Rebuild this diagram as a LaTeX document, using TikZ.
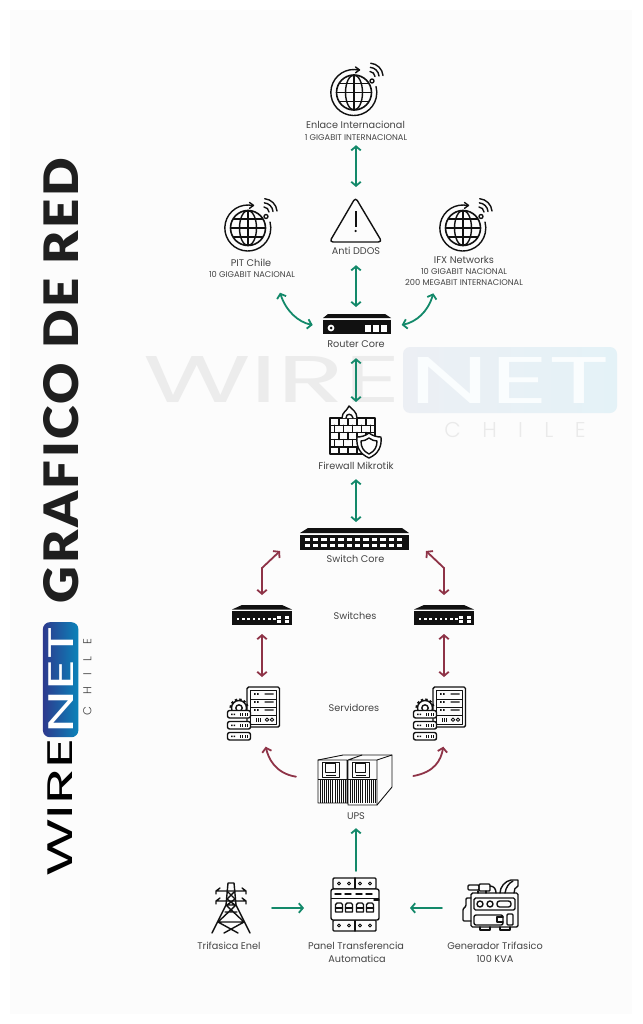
\documentclass[tikz,border=0pt]{standalone}
\usepackage{fontspec}
\usepackage{graphicx}
\usetikzlibrary{arrows.meta,calc}
\setmainfont{Poppins}
\newfontfamily\titlefont{Lato}[LetterSpace=5,BoldFont=* Black]
\newfontfamily\logofont{Poppins}
\newfontfamily\chilefont{Poppins}[UprightFont=* Light,LetterSpace=100]
\definecolor{gline}{HTML}{13896A}
\definecolor{rline}{HTML}{8E3347}
\definecolor{ink}{HTML}{111111}
\definecolor{lab}{HTML}{444444}
\definecolor{logoA}{HTML}{2D3A8E}
\definecolor{logoB}{HTML}{0B83B9}
\definecolor{wmA}{HTML}{ECEFF4}
\definecolor{wmB}{HTML}{E4F2F7}
\definecolor{wmWire}{HTML}{ECECEC}
\definecolor{wmNet}{HTML}{FAFDFE}
\definecolor{wmChile}{HTML}{EAEAEA}
\definecolor{pagebg}{HTML}{FCFCFC}
\tikzset{
  conn/.style={line width=1.8pt,line cap=round,line join=miter},
  green2/.style={conn,draw=gline,{Straight Barb[length=4pt,width=9.5pt,line width=1.8pt]}-{Straight Barb[length=4pt,width=9.5pt,line width=1.8pt]}},
  green1/.style={conn,draw=gline,-{Straight Barb[length=4pt,width=9.5pt,line width=1.8pt]}},
  red2/.style={conn,draw=rline,{Straight Barb[length=4pt,width=9.5pt,line width=1.8pt]}-{Straight Barb[length=4pt,width=9.5pt,line width=1.8pt]}},
  red1/.style={conn,draw=rline,-{Straight Barb[length=4pt,width=9.5pt,line width=1.8pt]}},
  lbl/.style={inner sep=0pt,text=lab,font=\fontsize{9.7}{10}\selectfont,text height=9pt,text depth=2pt},
  sub/.style={inner sep=0pt,text=lab,font=\fontsize{8.3}{9}\selectfont,text height=6.5pt,text depth=1pt},
  box/.style={inner sep=0pt,outer sep=0pt,minimum width=#1},
  ico/.style={draw=ink,line width=1.4pt,line join=round,line cap=round},
  thinico/.style={draw=ink,line width=.9pt,line join=round},
  globepic/.pic={
    \draw[ico,line width=1.6pt] (0,0) circle[radius=17.5];
    \draw[ico] (0,0) ellipse[x radius=8.5,y radius=17.5];
    \draw[ico] (0,-17.5)--(0,17.5) (-17.5,0)--(17.5,0) (-14.5,-9)--(14.5,-9) (-14.5,9)--(14.5,9);
    \draw[ico] (5,-22.4) arc[start angle=-77,delta angle=-298,radius=23];
    \draw[ico] (1.5,-25.5)--(5.5,-22.6)--(1.5,-19.7);
    \draw[ico] (18,-11.5) circle[radius=2];
    \draw[ico] (21,-16) arc[start angle=-5,delta angle=-80,radius=5.5];
    \draw[ico] (25,-16.5) arc[start angle=-5,delta angle=-80,radius=9.5];
    \draw[ico] (29,-17) arc[start angle=-5,delta angle=-80,radius=13.5];
  },
  smallswitch/.pic={
    \fill[ink] (-20,-10)--(20,-10)--(30,-5.5)--(-30,-5.5)--cycle;
    \fill[ink] (-30,-4.5) rectangle (30,10);
    \foreach \i in {0,...,7} \fill[white] (-25+\i*5.2,3) rectangle ++(2.4,2.4);
    \foreach \u in {15,23} \foreach \v in {1,5} \fill[white] (\u,\v) rectangle ++(4,3);
  },
  serverpic/.pic={
    \draw[ico,rounded corners=1.5] (-6.5,-26) rectangle (26,14);
    \draw[thinico] (-3.5,-23) rectangle (22.5,11);
    \foreach \y in {-14,-6,2} \draw[thinico] (-3.5,\y)--(22.5,\y);
    \foreach \y in {-19,-11,-3}{
      \fill[ink] (0.5,\y-.8) rectangle ++(1.6,1.6) (3.5,\y-.8) rectangle ++(1.6,1.6) (11,\y-.7) rectangle ++(9,1.4);
    }
    \foreach \x in {2,4,6} \fill[ink] (\x,5) rectangle ++(1,3.5);
    \draw[thinico] (13.5,6.7) circle[radius=1.7] (18.5,6.7) circle[radius=1.7];
    \foreach \a in {-170,-140,-110,-80,-50,-20} \draw[ink,line width=2.4pt] (-14.5,-5)--++(\a:9.5);
    \draw[ico,fill=white] (-14.5,-5) circle[radius=7.5];
    \draw[ico] (-14.5,-5) circle[radius=3.2];
    \foreach \y in {-2.5,8.5,19.5}{
      \draw[ico,fill=white,rounded corners=2] (-26,\y) rectangle (-3,\y+7.5);
      \fill[ink] (-22.5,\y+3) rectangle ++(1.5,1.6) (-20,\y+3) rectangle ++(1.5,1.6);
      \foreach \x in {-14,-11.5,-9,-6.5} \fill[ink] (\x,\y+2.6) rectangle ++(1.4,2.4);
    }
  }
}
\newcommand{\wirelogo}[7]{%
  % #1 prefix, #2 WIRE colour, #3 rect left, #4 rect right, #5 NET, #6 CHILE, #7 shade angle
  \node[anchor=south west,inner sep=0pt,transform shape,text=#2] (#1wire) at (0,0) {\resizebox{258pt}{46pt}{\logofont WIRE}};
  \shade[rounded corners=7pt,shading angle=#7,left color=#3,right color=#4] (260,-10) rectangle (474,56);
  \node[inner sep=0pt,transform shape,text=#5] (#1net) at (367,23) {\resizebox{200pt}{46pt}{\logofont NET}};
  \node[inner sep=0pt,transform shape,text=#6,font=\chilefont\fontsize{21.4}{22}\selectfont] (#1chile) at (372,-26.5) {CHILE};
}
\begin{document}
\begin{tikzpicture}[x=1pt,y=-1pt]
\useasboundingbox (0,0) rectangle (642,1024);
\fill[white] (0,0) rectangle (642,1024);
\fill[pagebg] (10,10) rectangle (632,1014);

% watermark
\begin{scope}[shift={(143,403)},y=1pt]
  \wirelogo{wm}{wmWire}{wmA}{wmB}{wmNet}{wmChile}{90}
\end{scope}
% side logo
\begin{scope}[shift={(73,877)},rotate=90,scale=.5376,y=1pt]
  \wirelogo{sl}{black}{logoA}{logoB}{white}{black!75}{90}
\end{scope}
\node[inner sep=0pt,rotate=90,text=black!88] (title) at (61,380.5) {\resizebox{445pt}{35pt}{\titlefont\bfseries GRAFICO DE RED}};

% ---------- icon place holders
\node[box=46,minimum height=46] (gtop) at (356,93) {};
\node[box=46,minimum height=46] (gleft) at (249,228) {};
\node[box=46,minimum height=46] (gright) at (464,228) {};
\node[box=52,minimum height=44] (ddos) at (356,220) {};
\node[box=68,minimum height=20] (router) at (357,324) {};
\node[box=50,minimum height=51] (fw) at (356,432.5) {};
\node[box=109,minimum height=21.5] (core) at (354.5,538.75) {};
\node[box=60,minimum height=20] (swl) at (262,615) {};
\node[box=60,minimum height=20] (swr) at (444,615) {};
\node[box=53,minimum height=52] (svl) at (253.5,713) {};
\node[box=53,minimum height=52] (svr) at (439.5,713) {};
\node[box=74,minimum height=51] (ups) at (355,780) {};
\node[box=38,minimum height=50] (tower) at (231,908) {};
\node[box=48,minimum height=53] (panel) at (355,904.5) {};
\node[box=54,minimum height=52] (gen) at (491,908) {};

% ---------- icons
\pic at (354,92.5) {globepic};
\pic at (248,228) {globepic};
\pic at (463,228) {globepic};

\draw[ico,rounded corners=3.5pt] (355.5,197.5)--(382,242)--(329.5,242)--cycle;
\fill[ink] (354.7,211) rectangle (356.5,227);
\fill[ink] (355.6,231) circle[radius=1.2];

\fill[ink] (328,314)--(385,314)--(391,318)--(323,318)--cycle;
\fill[ink] (323,319.5) rectangle (391,334);
\fill[white] (331,328) circle[radius=3.4];
\fill[ink] (331,328) circle[radius=1.5];
\foreach \x in {364.5,372.5,380.5} \fill[white] (\x,324.5) rectangle ++(6.5,7);

\begin{scope}
  \draw[ico] (330,418) rectangle (375,454);
  \foreach \y in {425.2,432.4,439.6,446.8} \draw[ico] (330,\y)--(375,\y);
  \foreach \x in {339,348,357,366} {\draw[ico] (\x,418)--(\x,425.2); \draw[ico] (\x,432.4)--(\x,439.6); \draw[ico] (\x,446.8)--(\x,454);}
  \foreach \x in {334.5,343.5,352.5,361.5,370.5} {\draw[ico] (\x,425.2)--(\x,432.4); \draw[ico] (\x,439.6)--(\x,446.8);}
  \draw[ico,fill=white] (342,418) .. controls (342,412) and (347,411) .. (349,406) .. controls (352,409) and (357,412) .. (357,418);
  \draw[ico] (346,418) .. controls (346,413) and (352,413) .. (353,418);
  \draw[ico,fill=white] (369,433) .. controls (373,436) and (377,437) .. (381,437) .. controls (382,447) and (378,454) .. (369,458) .. controls (360,454) and (356,447) .. (357,437) .. controls (361,437) and (365,436) .. (369,433) -- cycle;
  \draw[ico] (369,438) .. controls (372,440) and (374,441) .. (377,441) .. controls (377,447) and (375,451) .. (369,454) .. controls (363,451) and (361,447) .. (361,441) .. controls (364,441) and (366,440) .. (369,438) -- cycle;
\end{scope}

\fill[ink] (308,528)--(402,528)--(409,533)--(300,533)--cycle;
\fill[ink] (300,534.5) rectangle (409,549.5);
\foreach \i in {0,...,11} \foreach \y in {537.5,543.5} \fill[white] (304.5+\i*8.4,\y) rectangle ++(5.4,3.6);

\pic at (262,615) {smallswitch};
\pic at (444,615) {smallswitch};
\pic at (253.5,713) {serverpic};
\pic at (439.5,713) {serverpic};

% UPS
\begin{scope}
  \draw[ico,line width=.9pt] (318,760)--(343,755)--(392,755)--(392,787)--(377,805)--(348,805)--(348,803)--(318,803)--cycle;
  \draw[ico,line width=.9pt] (347,760)--(318,760) (348,760)--(377,760)--(377,805) (377,760)--(392,755) (347,760)--(347,803) (348,760)--(348,803) (348,760)--(362,755);
  \foreach \a in {325,355}{
    \draw[thinico] (\a-3,762) rectangle (\a+14,777);
    \draw[ico,line width=.9pt] (\a,763.5) rectangle (\a+10,772);
    \draw[thinico] (\a+1,775)--(\a+11,775);
  }
  \foreach \a in {318,348}{
    \draw[thinico] (\a,779)--(\a+29,779);
    \foreach \i in {1,...,13} \draw[draw=ink,line width=.55pt] (\a+\i*2.1,779)--(\a+\i*2.1,803);
  }
\end{scope}

% tower
\begin{scope}
  \draw[ico] (228,883)--(226,905)--(212,933) (234,883)--(236,905)--(250,933) (228,883)--(234,883);
  \draw[ico] (226,905)--(236,905) (225,912)--(237,912)
    (227,891)--(235,899)--(227,905) (235,891)--(227,899)--(235,905)
    (226,905)--(244,922) (236,905)--(218,922) (218,922)--(244,922)
    (218,922)--(238,933) (244,922)--(224,933);
  \draw[ico] (220,888)--(216,891)--(246,891)--(242,888) (216,891)--(216,894) (246,891)--(246,894);
  \draw[ico] (220,898)--(216,901)--(246,901)--(242,898) (216,901)--(216,904) (246,901)--(246,904);
\end{scope}

% panel
\begin{scope}
  \draw[ico,rounded corners=1pt] (333,878) rectangle (376,889);
  \draw[ico,rounded corners=1pt] (333,920) rectangle (376,931);
  \draw[ico] (355,878)--(355,889) (355,920)--(355,931);
  \foreach \x in {339,349,360,370} {\draw[ico,line width=1pt] (\x,883.5) circle[radius=1.5]; \draw[ico,line width=1pt] (\x,925.5) circle[radius=1.5];}
  \draw[ico,fill=white,rounded corners=2pt] (331,889) rectangle (379,920);
  \foreach \x in {335,345,356,366} \draw[ico] (\x,894)--(\x+6,894);
  \draw[thinico] (331,898)--(379,898);
  \foreach \x in {339,349,360,370} {
    \draw[ico] (\x-3.5,912)--(\x-3.5,904.5)--(\x-2,903)--(\x+2,903)--(\x+3.5,904.5)--(\x+3.5,912)--cycle;
    \draw[ico] (\x-3.5,908)--(\x+3.5,908);
  }
  \draw[ico] (374,900)--(379,900);
\end{scope}

% generator
\begin{scope}
  \draw[ico,rounded corners=1.5pt] (471,893) rectangle (518,927);
  \draw[ico,rounded corners=1.5pt] (474,898) rectangle (515,910);
  \draw[ico] (480,904) circle[radius=3] (490,904) circle[radius=3];
  \draw[ico,rounded corners=2.5pt] (497,901) rectangle (511,907);
  \draw[ico,rounded corners=2pt] (474,915) rectangle (503,925);
  \draw[ico] (503,917)--(497,917)--(497,922)--(503,922);
  \draw[ico,rounded corners=1pt] (507,914) rectangle (513,925);
  \draw[ico,rounded corners=1pt] (468,885) rectangle (479,890);
  \draw[ico,rounded corners=1pt] (479,884) rectangle (490,891);
  \draw[ico] (490,886) .. controls (494,886) and (496,889) .. (496,893);
  \draw[ico] (478,891)--(478,893) (486,891)--(486,893);
  \draw[ico] (500,893) .. controls (500,887) and (505,881) .. (511,880)--(518,880)--(518,886) .. controls (515,887) and (514,890) .. (514,893);
  \draw[ico] (505,893) .. controls (506,887) and (509,883) .. (513,881);
  \draw[ico,rounded corners=1pt] (471,898)--(466,898)--(466,906)--(463,909)--(463,921)--(471,921);
  \draw[ico] (480,927)--(480,930)--(490,930)--(490,927) (500,927)--(500,930)--(510,930)--(510,927);
\end{scope}

% ---------- labels
\node[lbl] (enlace) at (355.5,125) {Enlace Internacional};
\node[sub] (enlacesub) at (356,138) {1 GIGABIT INTERNACIONAL};
\node[lbl] (pit) at (251,263) {PIT Chile};
\node[sub] (pitsub) at (252,275) {10 GIGABIT NACIONAL};
\node[lbl] (ddoslab) at (356,251) {Anti DDOS};
\node[lbl] (ifx) at (464,260) {IFX Networks};
\node[sub] (ifxa) at (464,272) {10 GIGABIT NACIONAL};
\node[sub] (ifxb) at (464,283) {200 MEGABIT INTERNACIONAL};
\node[lbl] (routerlab) at (356,344) {Router Core};
\node[lbl] (fwlab) at (356,466) {Firewall Mikrotik};
\node[lbl] (corelab) at (355.5,559) {Switch Core};
\node[lbl] (swlab) at (355,616) {Switches};
\node[lbl] (svlab) at (354,708) {Servidores};
\node[lbl] (upslab) at (356,816) {UPS};
\node[lbl] (towerlab) at (229,946) {Trifasica Enel};
\node[lbl] (panellab) at (356,946) {Panel Transferencia};
\node[lbl] (panellabb) at (357,959) {Automatica};
\node[lbl] (genlab) at (495,946) {Generador Trifasico};
\node[lbl] (genlabb) at (495,959) {100 KVA};

% ---------- free ends
\coordinate (pitend) at (280,292.7);
\coordinate (ifxend) at (433.3,293.3);
\coordinate (routerl) at (312.7,325);
\coordinate (routerr) at (401.7,325);
\coordinate (corel) at (280,551);
\coordinate (corer) at (426,551);
\coordinate (elbowl) at (262,568);
\coordinate (elbowr) at (444,568);
\coordinate (upsl) at (296,776.7);
\coordinate (upsr) at (413.3,776);
\coordinate (svltip) at (265.7,746.7);
\coordinate (svrtip) at (443.3,746.7);

% ---------- connectors
\draw[green2,shorten <=3.25pt,shorten >=11pt] (enlacesub.south) -- (ddos.north);
\draw[green2,shorten <=8.5pt,shorten >=7pt] (ddoslab.south) -- (ddoslab.south |- router.north);
\draw[green2,shorten <=8.5pt,shorten >=5pt] (routerlab.south) -- (fw.north);
\draw[green2,shorten <=7.5pt,shorten >=6pt] (fwlab.south) -- (fwlab.south |- core.north);
\draw[green2] (pitend) .. controls (286,311) and (298,322) .. (routerl);
\draw[green2] (ifxend) .. controls (428,312) and (416,322) .. (routerr);
\draw[red2,shorten >=10pt] (corel) -- (elbowl) -- (swl.north);
\draw[red2,shorten >=10pt] (corer) -- (elbowr) -- (swr.north);
\draw[red2,shorten <=9pt,shorten >=10pt] (swl.south) -- (swl.south |- svl.north);
\draw[red2,shorten <=9pt,shorten >=10pt] (swr.south) -- (swr.south |- svr.north);
\draw[red1] (upsl) .. controls (275,773.3) and (268.3,758) .. (svltip);
\draw[red1] (upsr) .. controls (435,772) and (441,760) .. (svrtip);
\draw[green1,shorten <=7pt,shorten >=6.5pt] (panel.north -| upslab.south) -- (upslab.south);
\draw[green1,shorten <=22pt,shorten >=27pt] (tower.east) -- (tower.east -| panel.west);
\draw[green1,shorten <=22pt,shorten >=31pt] (gen.west) -- (gen.west -| panel.east);
\end{tikzpicture}
\end{document}
